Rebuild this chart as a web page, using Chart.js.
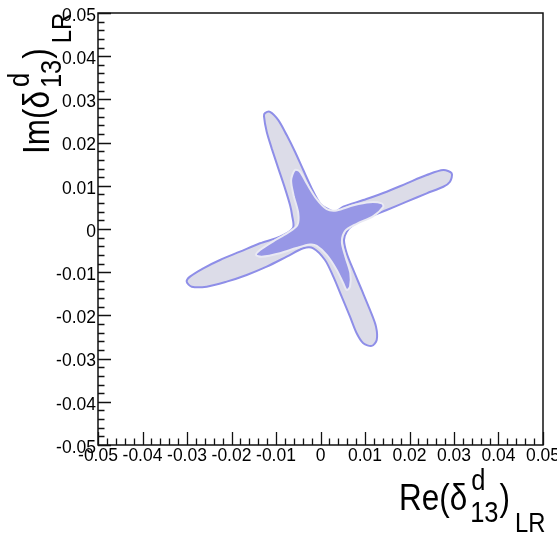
<!DOCTYPE html>
<html>
<head>
<meta charset="utf-8">
<script src="https://cdn.jsdelivr.net/npm/chart.js@4.4.1/dist/chart.umd.min.js"></script>
<style>
  body { margin: 0; background: #fff; }
  canvas { display: block; }
</style>
</head>
<body>
<canvas id="contourChart" width="557" height="533"></canvas>
<script>
// 1 sigma / 2 sigma regions in the (Re, Im) plane
const outerRe = [-0.01097, -0.00948, -0.00798, -0.00685, -0.00640, -0.00618, -0.00910, -0.01360,
    -0.01809, -0.02258, -0.02634, -0.02933, -0.03007, -0.02894, -0.02557, -0.02108, -0.01658,
    -0.01209, -0.00760, -0.00387, -0.00162, 0.00101, 0.00288, 0.00476, 0.00663, 0.00813, 0.00962,
    0.01151, 0.01263, 0.01247, 0.01112, 0.00926, 0.00737, 0.00589, 0.00528, 0.00589, 0.00737,
    0.01038, 0.01488, 0.01937, 0.02387, 0.02760, 0.02910, 0.02948, 0.02760, 0.02387, 0.01937,
    0.01488, 0.00962, 0.00512, 0.00326, 0.00139, -0.00011, -0.00198, -0.00387, -0.00573, -0.00760,
    -0.00948, -0.01135, -0.01247, -0.01270, -0.01209, -0.01097];
const outerIm = [0.01867, 0.01404, 0.00941, 0.00555, 0.00324, 0.00023, -0.00178, -0.00331,
    -0.00525, -0.00717, -0.00909, -0.01103, -0.01219, -0.01335, -0.01335, -0.01219, -0.01064,
    -0.00872, -0.00641, -0.00446, -0.00446, -0.00717, -0.01103, -0.01566, -0.02029, -0.02413, -0.02644,
    -0.02706, -0.02568, -0.02260, -0.01874, -0.01411, -0.00948, -0.00562, -0.00254, -0.00062, 0.00093,
    0.00248, 0.00440, 0.00632, 0.00826, 0.00978, 0.01094, 0.01288, 0.01365, 0.01249, 0.01057,
    0.00863, 0.00671, 0.00516, 0.00400, 0.00479, 0.00594, 0.00941, 0.01365, 0.01788, 0.02174,
    0.02521, 0.02713, 0.02683, 0.02614, 0.02251, 0.01867];

const innerRe = [-0.00600, -0.00500, -0.00520, -0.00740, -0.01070, -0.01360, -0.01449, -0.01321,
    -0.00910, -0.00540, -0.00236, -0.00085, 0.00139, 0.00364, 0.00512, 0.00589, 0.00663, 0.00670,
    0.00560, 0.00480, 0.00560, 0.00813, 0.01187, 0.01411, 0.01375, 0.01110, 0.00740, 0.00364,
    0.00139, -0.00085, -0.00310, -0.00461, -0.00573, -0.00660, -0.00600];
const innerIm = [0.00750, 0.00370, 0.00093, -0.00090, -0.00290, -0.00486, -0.00601, -0.00641,
    -0.00560, -0.00440, -0.00360, -0.00390, -0.00601, -0.00948, -0.01256, -0.01411, -0.01335, -0.01020,
    -0.00640, -0.00294, -0.00040, 0.00120, 0.00300, 0.00516, 0.00594, 0.00620, 0.00550, 0.00430,
    0.00460, 0.00690, 0.01057, 0.01325, 0.01365, 0.01130, 0.00750];

const axisMin = -0.05;
const axisMax = 0.05;
const minorStep = 0.002;

const toPoints = (re, im) => re.map((v, i) => ({ x: v, y: im[i] }));

const isMajor = (v) => Math.round(v * 1000) % 10 === 0;
const tickLabel = (v) => {
    if (!isMajor(v)) return "";
    const k = Math.round(v * 100);
    return k === 0 ? "0" : (k / 100).toFixed(2);
};

const fontFamily = "'Liberation Sans', Arial, sans-serif";
const squeeze = 0.85;

// ROOT style frame with inward ticks + latex-ish axis titles
const framePlugin = {
    id: "frame",
    afterDraw(chart) {
        const { ctx, chartArea: a, scales } = chart;
        ctx.save();
        ctx.strokeStyle = "#111";
        ctx.lineWidth = 1.5;
        ctx.strokeRect(a.left, a.top, a.right - a.left, a.bottom - a.top);
        ctx.lineWidth = 1.3;
        ctx.beginPath();
        scales.x.ticks.forEach((t) => {
            const px = Math.round(scales.x.getPixelForValue(t.value)) + 0.5;
            const len = isMajor(t.value) ? 13 : 6.5;
            ctx.moveTo(px, a.bottom);
            ctx.lineTo(px, a.bottom - len);
        });
        scales.y.ticks.forEach((t) => {
            const py = Math.round(scales.y.getPixelForValue(t.value)) + 0.5;
            const len = isMajor(t.value) ? 13 : 6.5;
            ctx.moveTo(a.left, py);
            ctx.lineTo(a.left + len, py);
        });
        ctx.stroke();
        ctx.restore();

        drawTitle(ctx, "Re(δ", 399, 510, 0);
        drawTitle(ctx, "Im(δ", 49, 154, -Math.PI / 2);
    },
};

function textW(ctx, t, size) {
    ctx.font = size + "px " + fontFamily;
    return ctx.measureText(t).width * squeeze;
}

function drawTitle(ctx, head, x0, y0, angle) {
    const headW = textW(ctx, head, 37);
    const scriptX = headW + 3;
    const scriptW = Math.max(textW(ctx, "d", 30), textW(ctx, "13", 30));
    const closeX = scriptX + scriptW + 1;
    const lrX = closeX + textW(ctx, ")", 37) + 5;
    const parts = [
        { t: head, size: 37, dx: 0, dy: 0 },
        { t: "d", size: 30, dx: scriptX + 1, dy: -20 },
        { t: "13", size: 30, dx: scriptX, dy: 11.7 },
        { t: ")", size: 37, dx: closeX, dy: 0 },
        { t: "LR", size: 28, dx: lrX, dy: 21.7 },
    ];
    ctx.save();
    ctx.translate(x0, y0);
    ctx.rotate(angle);
    ctx.fillStyle = "#000";
    ctx.textBaseline = "alphabetic";
    parts.forEach((p) => {
        ctx.save();
        ctx.translate(p.dx, p.dy);
        ctx.scale(squeeze, 1);
        ctx.font = p.size + "px " + fontFamily;
        ctx.fillText(p.t, 0, 0);
        ctx.restore();
    });
    ctx.restore();
}

const scaleBase = {
    type: "linear",
    min: axisMin,
    max: axisMax,
    grid: { display: false, drawTicks: false },
    border: { display: false },
};

new Chart(document.getElementById("contourChart"), {
    type: "line",
    data: {
        datasets: [
            {
                label: "inner",
                data: toPoints(innerRe, innerIm),
                borderColor: "#e9e9f3",
                borderWidth: 2,
                backgroundColor: "#9797e6",
                fill: "shape",
                pointRadius: 0,
                tension: 0.3,
                order: 1,
            },
            {
                label: "outer",
                data: toPoints(outerRe, outerIm),
                borderColor: "#8e8ee8",
                borderWidth: 2,
                backgroundColor: "#dcdce8",
                fill: "shape",
                pointRadius: 0,
                tension: 0.3,
                order: 2,
            },
        ],
    },
    options: {
        responsive: false,
        animation: false,
        layout: { padding: { left: 0, top: 13, right: 14, bottom: 0 } },
        plugins: {
            legend: { display: false },
            tooltip: { enabled: false },
        },
        scales: {
            x: {
                ...scaleBase,
                position: "bottom",
                afterFit: (s) => {
                    s.height = 88;
                    s.paddingLeft = 0;
                    s.paddingRight = 0;
                },
                ticks: {
                    stepSize: minorStep,
                    autoSkip: false,
                    maxRotation: 0,
                    minRotation: 0,
                    padding: 1,
                    color: "#000",
                    font: { family: fontFamily, size: 17.5 },
                    callback: tickLabel,
                },
            },
            y: {
                ...scaleBase,
                position: "left",
                afterFit: (s) => {
                    s.width = 98;
                    s.paddingTop = 0;
                    s.paddingBottom = 0;
                },
                ticks: {
                    stepSize: minorStep,
                    autoSkip: false,
                    padding: 2,
                    labelOffset: 3,
                    color: "#000",
                    font: { family: fontFamily, size: 17.5 },
                    callback: tickLabel,
                },
            },
        },
    },
    plugins: [framePlugin],
});
</script>
</body>
</html>
